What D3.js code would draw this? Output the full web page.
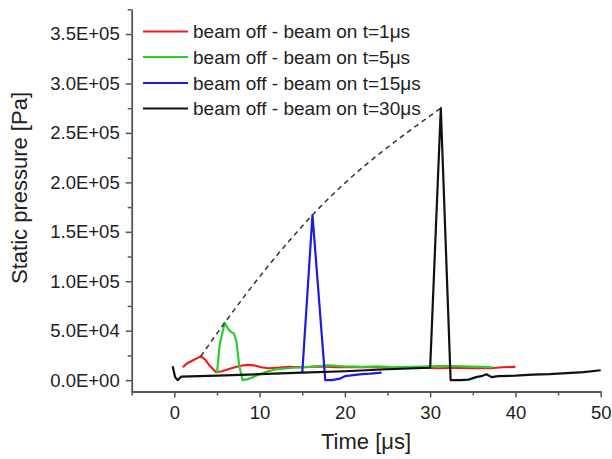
<!DOCTYPE html>
<html><head><meta charset="utf-8">
<script src="https://cdn.jsdelivr.net/npm/d3@7"></script>
<style>
html,body{margin:0;padding:0;background:#fff;}
text{font-family:"Liberation Sans",Arial,sans-serif;fill:#222;}
</style></head>
<body><svg id="c" width="612" height="459"></svg>
<script>
// ---- data (time in µs, static pressure in Pa) ----
const redT = [1.0,1.5,2.2,3.1,3.6,4.2,4.9,5.6,6.5,7.5,8.5,9.3,10.2,11.0,12.0,13.5,15,17,19,21,23,25,27,29,31,33,35,37,38.5,40.0];
const redP = [13e3,17e3,20e3,24e3,21e3,14e3,8e3,9e3,11.5e3,14e3,15.5e3,15e3,13e3,12e3,12.5e3,13.5e3,13e3,14e3,13e3,13.5e3,13e3,12.5e3,13e3,12.5e3,12e3,12.5e3,12e3,12e3,13e3,13.5e3];
const greenT = [5.0,5.3,5.9,6.3,6.6,7.0,7.3,7.6,8.0,8.6,9.2,10,11,12,14,16,18,20,22,24,26,28,30,32,34,36,37.4];
const greenP = [7e3,35e3,58e3,52e3,49e3,47e3,38e3,15e3,0,1e3,3e3,6e3,9e3,11e3,12.5e3,13.5e3,15e3,14e3,13.5e3,14e3,13e3,13.5e3,14e3,14.5e3,14e3,13.5e3,13e3];
const blueT = [15.0,16.2,17.7,18.5,19.4,20.0,21,22,23,24.3];
const blueP = [7e3,167e3,0,0,1.5e3,4e3,5e3,6e3,6.5e3,7.5e3];
const blackT = [-0.2,0.1,0.4,0.8,5,10,15,20,25,30.0,31.25,32.4,33.5,34.5,35.4,36.0,36.6,37.2,38,40,42,44,46,48,50];
const blackP = [14e3,3e3,0,3.5e3,4.5e3,6e3,7.5e3,9e3,11e3,12.5e3,275e3,0,0,500,3e3,4e3,6e3,3e3,4e3,4.5e3,5.5e3,6e3,7e3,8e3,10e3];
const envT = [3.1,5.9,16.2,31.25];
const envP = [24e3,58e3,167e3,275e3];
const seriesNames = ["beam off - beam on t=1\u03bcs","beam off - beam on t=5\u03bcs","beam off - beam on t=15\u03bcs","beam off - beam on t=30\u03bcs"];
const seriesColors = ["#ee1c1c","#2ccc2c","#1c1ce0","#111111"];
const xTicks = [0,10,20,30,40,50];
const xMinor = [-5,5,15,25,35,45];
const yTicks = [0,5e4,1e5,1.5e5,2e5,2.5e5,3e5,3.5e5];
const yMinor = [2.5e4,7.5e4,1.25e5,1.75e5,2.25e5,2.75e5,3.25e5,3.75e5];
const xLabel = "Time [\u03bcs]";
const yLabel = "Static pressure [Pa]";

const svg = d3.select("#c");
const L = 131.7, R = 600.7, T = 9.3, B = 391.5;
const x = d3.scaleLinear().domain([-5,50]).range([L,R]);
const y = d3.scaleLinear().domain([-1.15e4,3.75e5]).range([B,T]);
const axisColor = "#555";
const fmt = v => { const s = v.toExponential(1).toUpperCase();
  const m = s.match(/^(.*)E([+-])(\d+)$/); return m[1]+"E"+m[2]+m[3].padStart(2,"0"); };

// x axis
svg.append("g").attr("transform",`translate(0,${B})`)
  .call(d3.axisBottom(x).tickValues(xTicks).tickSize(6).tickSizeOuter(0).tickPadding(8).tickFormat(d3.format("d")));
svg.append("g").attr("transform",`translate(0,${B})`)
  .call(d3.axisBottom(x).tickValues(xMinor).tickSize(4).tickFormat(""))
  .call(g=>g.select(".domain").remove());
// y axis
svg.append("g").attr("transform",`translate(${L},0)`)
  .call(d3.axisLeft(y).tickValues(yTicks).tickSize(6).tickSizeOuter(0).tickPadding(6).tickFormat(fmt));
svg.append("g").attr("transform",`translate(${L},0)`)
  .call(d3.axisLeft(y).tickValues(yMinor).tickSize(4).tickFormat(""))
  .call(g=>g.select(".domain").remove());
svg.selectAll(".domain").attr("stroke",axisColor).attr("stroke-width",1.8);
svg.selectAll(".tick line").attr("stroke",axisColor).attr("stroke-width",1.5);
svg.selectAll(".tick text").style("font-size","18.5px").attr("fill","#222");

// axis titles
svg.append("text").attr("x",366).attr("y",449).attr("text-anchor","middle")
  .style("font-size","22px").text(xLabel);
svg.append("text").attr("transform","translate(27,188) rotate(-90)").attr("text-anchor","middle")
  .style("font-size","22px").text(yLabel);

// lines
const line = d3.line().x(d=>x(d[0])).y(d=>y(d[1]));
const series = [[redT,redP],[greenT,greenP],[blueT,blueP],[blackT,blackP]];
series.forEach((s,i)=>{
  const pts = s[0].map((t,j)=>[t,s[1][j]]);
  svg.append("path").datum(pts).attr("d",line).attr("fill","none")
    .attr("stroke",seriesColors[i]).attr("stroke-width",2.2).attr("stroke-linejoin","round");
});
// dashed envelope
svg.append("path").datum(envT.map((t,j)=>[t,envP[j]]))
  .attr("d",d3.line().x(d=>x(d[0])).y(d=>y(d[1])).curve(d3.curveMonotoneX))
  .attr("fill","none").attr("stroke","#333").attr("stroke-width",1.5).attr("stroke-dasharray","5,4");

// legend
const legY = [31.5,57,83,108.5];
seriesNames.forEach((n,i)=>{
  svg.append("line").attr("x1",143).attr("x2",188).attr("y1",legY[i]).attr("y2",legY[i])
    .attr("stroke",seriesColors[i]).attr("stroke-width",2.2);
  svg.append("text").attr("x",193).attr("y",legY[i]).attr("dy","0.35em")
    .style("font-size","19px").text(n);
});
</script></body></html>
